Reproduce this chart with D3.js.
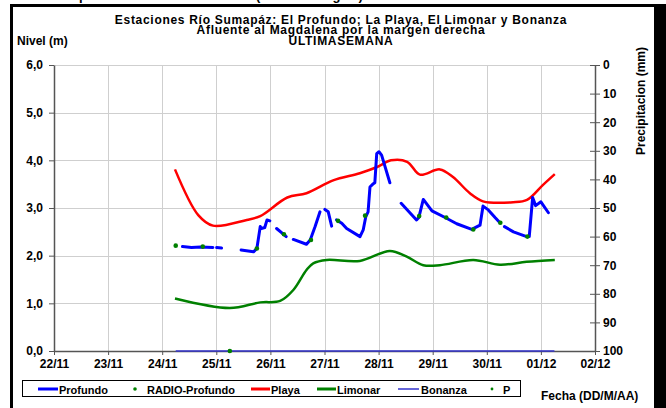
<html>
<head>
<meta charset="utf-8">
<title>Sumapaz niveles</title>
<style>
  body { margin: 0; background: #fff; }
  svg text { font-family: "Liberation Sans", Arial, sans-serif; font-weight: bold; fill: #000; }
</style>
</head>
<body>
<div id="chart"></div>
<script src="https://cdn.jsdelivr.net/npm/d3@7"></script>
<script>
(function(){
  "use strict";

  // ---- data (dd/mm HH:MM) ----
  var dayTicks = ["22/11","23/11","24/11","25/11","26/11","27/11","28/11","29/11","30/11","01/12","02/12"];
  var levelTicks = [0, 1, 2, 3, 4, 5, 6];
  var rainTicks = [0, 10, 20, 30, 40, 50, 60, 70, 80, 90, 100];

  // Profundo: null marks a gap in the record
  var profundoTime = [
    "24/11 09:00","24/11 13:00","24/11 17:00","24/11 22:30","24/11 23:00",
    "25/11 00:10","25/11 02:20","25/11 03:00",
    "25/11 11:00","25/11 16:30","25/11 18:00","25/11 19:30","25/11 20:00","25/11 21:30","25/11 22:30","25/11 23:45","26/11 01:00",
    "26/11 02:45","26/11 05:45","26/11 07:00","26/11 08:00",
    "26/11 10:10","26/11 16:00","26/11 17:40","26/11 19:50","26/11 22:00","26/11 23:00",
    "27/11 00:10","27/11 01:40","27/11 03:10","27/11 04:00",
    "27/11 05:20","27/11 07:40","27/11 09:50","27/11 15:45","27/11 17:10","27/11 18:20","27/11 19:20","27/11 20:10",
    "27/11 21:40","27/11 22:20","27/11 23:10","28/11 00:10","28/11 01:20","28/11 05:00","28/11 07:00",
    "28/11 10:00","28/11 16:50","28/11 17:50","28/11 19:50","28/11 23:40","29/11 05:30","29/11 10:40","29/11 17:20",
    "29/11 21:00","29/11 22:20","30/11 00:40","30/11 03:40","30/11 05:50","30/11 06:50",
    "30/11 07:50","30/11 11:50","30/11 17:40","30/11 18:50","30/11 20:20","30/11 21:40","01/12 00:00","01/12 03:20"
  ];
  var profundoLevel = [
    2.19, 2.17, 2.18, 2.17, null,
    2.17, 2.16, null,
    2.12, 2.08, 2.15, 2.61, 2.57, 2.59, 2.75, 2.73, null,
    2.57, 2.45, 2.40, null,
    2.34, 2.24, 2.33, 2.61, 2.92, null,
    2.97, 2.92, 2.62, null,
    2.75, 2.68, 2.57, 2.40, 2.54, 2.82, 2.92, 3.44,
    3.51, 3.53, 4.14, 4.18, 4.11, 3.53, null,
    3.10, 2.75, 2.80, 3.18, 2.94, 2.80, 2.67, 2.55,
    2.64, 3.04, 2.96, 2.80, 2.69, null,
    2.61, 2.50, 2.40, 2.40, 3.22, 3.05, 3.13, 2.90
  ];

  var radioTime = ["24/11 06:00","24/11 18:00","25/11 06:00","25/11 18:00","26/11 06:00","26/11 18:00","27/11 06:00",
                   "27/11 18:00","28/11 18:00","29/11 06:00","29/11 18:00","30/11 06:00","30/11 18:00"];
  var radioLevel = [2.21, 2.19, 0.00, 2.15, 2.45, 2.33, 2.73, 2.84, 2.83, 2.80, 2.55, 2.69, 2.40];

  var playaTime = ["24/11 05:40","24/11 16:00","24/11 22:30","25/11 13:30","25/11 19:30","26/11 07:30","26/11 16:00",
                   "27/11 03:50","27/11 15:40","27/11 23:20","28/11 05:30","28/11 12:40","28/11 18:20","29/11 03:10",
                   "29/11 09:00","29/11 16:30","29/11 22:20","30/11 11:40","30/11 17:50","01/12 00:50","01/12 06:10"];
  var playaLevel = [3.81, 2.85, 2.63, 2.75, 2.83, 3.22, 3.31, 3.58, 3.73, 3.86, 4.00, 3.97, 3.70, 3.81,
                    3.65, 3.31, 3.14, 3.12, 3.17, 3.48, 3.71];

  var limonarTime = ["24/11 05:40","25/11 06:00","25/11 19:30","26/11 04:20","26/11 10:10","26/11 16:00",
                     "26/11 19:00","27/11 01:00","27/11 15:40","28/11 05:00","28/11 12:30",
                     "28/11 19:50","29/11 03:10","29/11 18:00","30/11 05:50","30/11 17:40","01/12 06:10"];
  var limonarLevel = [1.10, 0.90, 1.02, 1.05, 1.28, 1.70, 1.84, 1.91, 1.89, 2.10, 1.98,
                      1.80, 1.80, 1.91, 1.81, 1.87, 1.91];

  var bonanzaTime = ["24/11 06:00","25/11 06:00","26/11 06:00","27/11 06:00","28/11 06:00","29/11 06:00","30/11 06:00","01/12 06:00"];
  var bonanzaLevel = [0, 0, 0, 0, 0, 0, 0, 0];

  // precipitation (P): no readings shown in the week
  var rainTime = [];
  var rainMm = [];

  var width = 666, height = 408;
  var parse = d3.timeParse("%d/%m %H:%M");
  var parseDay = d3.timeParse("%d/%m");

  function zip(times, vals) {
    return times.map(function(t, i){ return { t: parse(t), v: vals[i] }; });
  }

  var svg = d3.select("#chart").append("svg")
      .attr("width", width)
      .attr("height", height);

  // frame round the whole graphic
  svg.append("rect").attr("x", 11.5).attr("y", 5.5).attr("width", 644).attr("height", 430)
      .attr("fill", "#fff").attr("stroke", "#000").attr("stroke-width", 3);
  svg.append("rect").attr("x", 655).attr("y", 4).attr("width", 11).attr("height", 404).attr("fill", "#000");

  // header line that sits above the frame (only its descenders show)
  svg.append("text").attr("x", 50).attr("y", 0).style("font-size", "13px")
      .text("Comportamiento de niveles");
  svg.append("text").attr("x", 256).attr("y", 0).style("font-size", "13px")
      .text("(Red hidrológica)");

  var x = d3.scaleTime()
      .domain([parseDay(dayTicks[0]), parseDay(dayTicks[dayTicks.length - 1])])
      .range([54, 595]);
  var y = d3.scaleLinear().domain([0, 6]).range([351, 65]);
  var yRain = d3.scaleLinear().domain([0, 100]).range([65, 351]);

  // grid
  var grid = svg.append("g").attr("stroke", "#cfcfcf").attr("stroke-width", 1);
  grid.selectAll("line.v").data(dayTicks.slice(1, -1)).enter().append("line")
      .attr("x1", function(d){ return Math.round(x(parseDay(d))) + 0.5; })
      .attr("x2", function(d){ return Math.round(x(parseDay(d))) + 0.5; })
      .attr("y1", y(6)).attr("y2", y(0));
  grid.selectAll("line.h").data(levelTicks.slice(1)).enter().append("line")
      .attr("x1", x.range()[0]).attr("x2", x.range()[1])
      .attr("y1", function(d){ return Math.round(y(d)) + 0.5; })
      .attr("y2", function(d){ return Math.round(y(d)) + 0.5; });

  // axes
  var fmtLevel = function(d){ return d3.format(".1f")(d).replace(".", ","); };
  var gLeft = svg.append("g").attr("transform", "translate(54,0)")
      .call(d3.axisLeft(y).tickValues(levelTicks).tickFormat(fmtLevel).tickSizeInner(5).tickSizeOuter(0).tickPadding(6));
  var gRight = svg.append("g").attr("transform", "translate(595,0)")
      .call(d3.axisRight(yRain).tickValues(rainTicks).tickSizeInner(5).tickSizeOuter(0).tickPadding(3));
  gRight.selectAll(".tick").append("line").attr("x2", -5).attr("stroke", "currentColor");
  var gBottom = svg.append("g").attr("transform", "translate(0,351)")
      .call(d3.axisBottom(x).tickValues(dayTicks.map(parseDay)).tickFormat(d3.timeFormat("%d/%m"))
        .tickSizeInner(4).tickSizeOuter(0).tickPadding(4));

  [gLeft, gRight, gBottom].forEach(function(g){
    g.attr("color", "#555").attr("font-size", null).attr("font-family", null);
    g.select(".domain").attr("stroke-width", 1.5);
    g.selectAll("text").attr("fill", "#000").style("font-size", "12px");
  });

  var line = d3.line()
      .defined(function(d){ return d.v != null; })
      .x(function(d){ return x(d.t); })
      .y(function(d){ return y(d.v); });
  var smooth = d3.line()
      .curve(d3.curveCatmullRom.alpha(0.5))
      .x(function(d){ return x(d.t); })
      .y(function(d){ return y(d.v); });

  // Bonanza (flat on zero)
  svg.append("path").datum(zip(bonanzaTime, bonanzaLevel)).attr("d", line)
      .attr("fill", "none").attr("stroke", "#3333cc").attr("stroke-width", 1.5);
  // Limonar
  svg.append("path").datum(zip(limonarTime, limonarLevel)).attr("d", smooth)
      .attr("fill", "none").attr("stroke", "#008000").attr("stroke-width", 2.5);
  // Playa
  svg.append("path").datum(zip(playaTime, playaLevel)).attr("d", smooth)
      .attr("fill", "none").attr("stroke", "#ff0000").attr("stroke-width", 2.5);
  // Profundo
  svg.append("path").datum(zip(profundoTime, profundoLevel)).attr("d", line)
      .attr("fill", "none").attr("stroke", "#0000ff").attr("stroke-width", 3)
      .attr("stroke-linejoin", "round").attr("stroke-linecap", "round");
  // RADIO-Profundo dots
  svg.selectAll("circle.radio").data(zip(radioTime, radioLevel)).enter().append("circle")
      .attr("cx", function(d){ return x(d.t); })
      .attr("cy", function(d){ return y(d.v); })
      .attr("r", 2.3).attr("fill", "#008000");
  // P dots
  svg.selectAll("circle.rain").data(zip(rainTime, rainMm)).enter().append("circle")
      .attr("cx", function(d){ return x(d.t); })
      .attr("cy", function(d){ return yRain(d.v); })
      .attr("r", 1.6).attr("fill", "#008000");

  // titles
  var titles = ["Estaciones Río Sumapáz: El Profundo; La Playa, El Limonar y Bonanza",
                "Afluente al Magdalena por la margen derecha",
                "ULTIMASEMANA"];
  svg.selectAll("text.title").data(titles).enter().append("text")
      .attr("x", 341).attr("y", function(d, i){ return 24 + i * 10.3; })
      .attr("text-anchor", "middle").style("font-size", "12px").style("letter-spacing", "0.7px")
      .text(function(d){ return d; });
  svg.append("text").attr("x", 17).attr("y", 44.5).style("font-size", "12px").text("Nivel (m)");
  svg.append("text").attr("transform", "translate(645,101) rotate(-90)").attr("text-anchor", "middle")
      .style("font-size", "12px").text("Precipitacion (mm)");
  svg.append("text").attr("x", 541).attr("y", 400).style("font-size", "12px").text("Fecha (DD/M/AA)");

  // legend
  var legend = svg.append("g");
  legend.append("rect").attr("x", 22.5).attr("y", 380.5).attr("width", 498).attr("height", 16)
      .attr("fill", "#fff").attr("stroke", "#000").attr("stroke-width", 1);
  var items = [
    { name: "Profundo", kind: "line", color: "#0000ff", w: 3, x0: 38, x1: 58, tx: 59 },
    { name: "RADIO-Profundo", kind: "dot", color: "#008000", r: 1.8, x0: 135, tx: 147 },
    { name: "Playa", kind: "line", color: "#ff0000", w: 3, x0: 251, x1: 270, tx: 271 },
    { name: "Limonar", kind: "line", color: "#008000", w: 3, x0: 317, x1: 336, tx: 337 },
    { name: "Bonanza", kind: "line", color: "#3333cc", w: 1.5, x0: 398, x1: 419, tx: 421 },
    { name: "P", kind: "dot", color: "#008000", r: 1.4, x0: 492, tx: 503 }
  ];
  items.forEach(function(it){
    if (it.kind === "line") {
      legend.append("line").attr("x1", it.x0).attr("x2", it.x1).attr("y1", 389).attr("y2", 389)
          .attr("stroke", it.color).attr("stroke-width", it.w);
    } else {
      legend.append("circle").attr("cx", it.x0).attr("cy", 389).attr("r", it.r).attr("fill", it.color);
    }
    legend.append("text").attr("x", it.tx).attr("y", 393.5).style("font-size", "11px").text(it.name);
  });

})();
</script>
</body>
</html>
